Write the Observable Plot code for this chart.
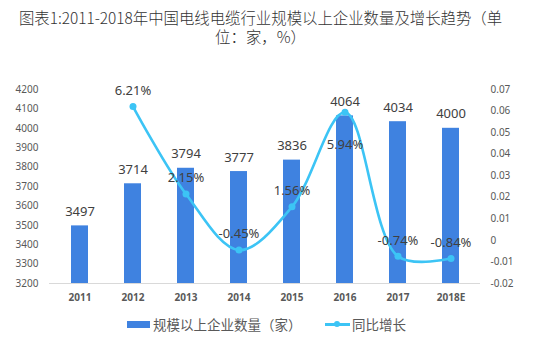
<!DOCTYPE html>
<html>
<head>
<meta charset="utf-8">
<script src="https://cdn.jsdelivr.net/npm/d3@7"></script>
<script src="https://cdn.jsdelivr.net/npm/@observablehq/plot@0.6"></script>
<style>
  body { margin: 0; width: 551px; height: 351px; background: #fff; overflow: hidden;
         font-family: "Noto Sans CJK SC", "Noto Sans", sans-serif; }
  .tl { position: absolute; left: 0; width: 521px; text-align: center; white-space: nowrap;
        font-size: 15.4px; line-height: 15px; height: 15px; color: #333; font-weight: 300; }
  #chart { position: absolute; left: 0; top: 48px; }
  #legend { position: absolute; left: 0; top: 314px; width: 551px; height: 22px;
            font-size: 13.5px; color: #595959; }
  .sw { position: absolute; }
</style>
</head>
<body>
<div class="tl" style="top:10px">图表1:2011-2018年中国电线电缆行业规模以上企业数量及增长趋势（单</div>
<div class="tl" style="top:29px">位：家，%）</div>
<div id="chart"></div>
<div id="legend">
  <div class="sw" style="left:127px;top:7px;width:23px;height:7px;background:#3f82e0"></div>
  <div class="sw" style="left:153px;top:0px;line-height:20px">规模以上企业数量（家）</div>
  <div class="sw" style="left:325px;top:9px;width:25px;height:2.5px;background:#3cc4f5"></div>
  <div class="sw" style="left:334px;top:7px;width:6px;height:6px;border-radius:3px;background:#3cc4f5"></div>
  <div class="sw" style="left:352px;top:0px;line-height:20px">同比增长</div>
</div>
<script>
const years = ["2011","2012","2013","2014","2015","2016","2017","2018E"];
const counts = [3497,3714,3794,3777,3836,4064,4034,4000];
const growth = [null,0.0621,0.0215,-0.0045,0.0156,0.0594,-0.0074,-0.0084];
const growthLabels = [null,"6.21%","2.15%","-0.45%","1.56%","5.94%","-0.74%","-0.84%"];
const leftTicks = [3200,3300,3400,3500,3600,3700,3800,3900,4000,4100,4200];
const rightTicks = [-0.02,-0.01,0,0.01,0.02,0.03,0.04,0.05,0.06,0.07];

const barColor = "#3f82e0";
const lineColor = "#3cc4f5";

// map right-axis values onto the left scale domain
const lMin = 3200, lMax = 4200, rMin = -0.02, rMax = 0.07;
const toLeft = v => lMin + (v - rMin) / (rMax - rMin) * (lMax - lMin);
const toRight = v => rMin + (v - lMin) / (lMax - lMin) * (rMax - rMin);

const bars = years.map((y, i) => ({year: y, count: counts[i]}));
const line = years.map((y, i) => ({year: y, g: growth[i], label: growthLabels[i]}))
  .filter(d => d.g !== null)
  .map(d => ({...d, gy: toLeft(d.g)}));

const below = new Set(["2016"]);

const chart = Plot.plot({
  width: 551,
  height: 262,
  marginLeft: 49,
  marginRight: 71,
  marginTop: 41,
  marginBottom: 27,
  style: {fontFamily: "'Noto Sans', 'DejaVu Sans', sans-serif", background: "transparent"},
  x: {domain: years, paddingInner: 0.68, paddingOuter: 0.34, label: null},
  y: {domain: [lMin, lMax], label: null},
  marks: [
    Plot.axisY({ticks: leftTicks, tickSize: 0, tickPadding: 11, tickFormat: d => String(d), fontSize: 10, color: "#595959", label: null}),
    Plot.axisY({ticks: rightTicks.map(toLeft), anchor: "right", tickSize: 0, tickPadding: 10,
                tickFormat: v => String(+toRight(v).toFixed(2)), fontSize: 10, color: "#595959", label: null}),
    Plot.axisX({tickSize: 0, tickPadding: 10, fontSize: 10, color: "#595959", fontWeight: "bold", label: null}),
    Plot.barY(bars, {x: "year", y1: lMin, y2: "count", fill: barColor}),
    Plot.ruleY([lMin], {stroke: "#d9d9d9", strokeWidth: 1}),
    Plot.text(bars, {x: "year", y: "count", text: d => String(d.count), dy: -14, fontSize: 13, fill: "#404040"}),
    Plot.line(line, {x: "year", y: "gy", stroke: lineColor, strokeWidth: 2.6, curve: "catmull-rom"}),
    Plot.dot(line, {x: "year", y: "gy", r: 3.5, fill: lineColor}),
    Plot.text(line.filter(d => !below.has(d.year)), {x: "year", y: "gy", text: "label", dy: -16, fontSize: 13, fill: "#404040"}),
    Plot.text(line.filter(d => below.has(d.year)), {x: "year", y: "gy", text: "label", dy: 32, fontSize: 13, fill: "#404040"})
  ]
});
document.getElementById("chart").appendChild(chart);
</script>
</body>
</html>
